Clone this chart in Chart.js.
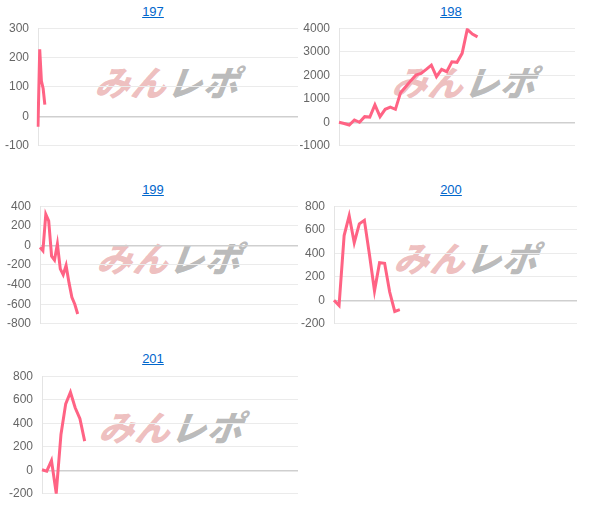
<!DOCTYPE html>
<html>
<head>
<meta charset="utf-8">
<script src="https://cdn.jsdelivr.net/npm/chart.js@4/dist/chart.umd.min.js"></script>
<style>
    body { margin: 0; background: #fff; font-family: "Liberation Sans", Arial, sans-serif; }
    #page { position: relative; width: 605px; height: 506px; overflow: hidden; }
    .title { position: absolute; text-align: center; font-size: 13px; line-height: 16px; }
    .title a { color: #0066cc; }
    .mark {
        position: absolute; transform: translate(-50%, -50%) skewX(-8deg);
        font-family: "Noto Sans CJK JP"; font-weight: 900; font-style: italic;
        font-size: 35px; line-height: 1; white-space: nowrap; letter-spacing: 1px;
    }
    .mark .a { color: rgba(215, 100, 100, 0.42); }
    .mark .b { color: rgba(110, 110, 110, 0.48); }
    canvas { position: absolute; }
</style>
</head>
<body>
<div id="page"></div>
<script>
// machine numbers (chart titles)
const machines = ['197', '198', '199', '200', '201']

// daily balance per machine
const balance197 = [-35, 228, 120, 95, 40]
const balance198 = [0, -50, -115, 100, 0, 240, 220, 740, 240, 550, 640, 550, 1260, 1510,
    1770, 2010, 2080, 2250, 2430, 1940, 2250, 2150, 2570, 2550, 2930, 3950, 3750, 3630]
const balance199 = [-20, -55, 317, 250, -110, -150, 14, -240, -300, -205, -380, -530, -600, -700]
const balance200 = [0, -45, 550, 720, 490, 650, 680, 390, 80, 320, 315, 70, -95, -80]
const balance201 = [4, -8, 83, -195, 305, 565, 664, 532, 438, 248]

// number of days on each x axis (labels are hidden)
const dayCounts = [153, 47, 90, 49, 55]

// y axis ticks
const yMin = [-100, -1000, -800, -200, -200]
const yMax = [300, 4000, 400, 800, 800]
const yStep = [100, 1000, 200, 200, 200]

const series = [balance197, balance198, balance199, balance200, balance201]

// page layout: canvas box, y axis width, title centre, watermark centre
const layout = [
    {left: 0, top: 12, w: 298, h: 150, axis: 38, tx: 153, ty: 12, mx: 168, my: 80},
    {left: 300, top: 12, w: 275, h: 150, axis: 39, tx: 451, ty: 12, mx: 465, my: 80},
    {left: 0, top: 190, w: 298, h: 150, axis: 40, tx: 153, ty: 190, mx: 170, my: 256},
    {left: 300, top: 190, w: 277, h: 150, axis: 34, tx: 451, ty: 190, mx: 467, my: 256},
    {left: 0, top: 360, w: 298, h: 150, axis: 42, tx: 153, ty: 359, mx: 172, my: 425},
]

const page = document.getElementById('page')

machines.forEach((name, i) => {
    const box = layout[i]

    page.insertAdjacentHTML('beforeend', `
        <div class="title" style="left:${box.tx - 60}px;top:${box.ty - 8}px;width:120px"><a href="#">${name}</a></div>
        <div class="mark" style="left:${box.mx}px;top:${box.my}px"><span class="a">みん</span><span class="b">レポ</span></div>
        <canvas id="c${name}" width="${box.w}" height="${box.h}" style="left:${box.left}px;top:${box.top}px"></canvas>
    `)

    const labels = []
    for (let d = 1; d <= dayCounts[i]; d++) labels.push(String(d))

    new Chart(document.getElementById('c' + name), {
        type: 'line',
        data: {
            labels: labels,
            datasets: [{
                data: series[i],
                borderColor: 'rgb(255, 99, 132)',
                backgroundColor: 'rgb(255, 99, 132)',
                borderWidth: 3,
                pointRadius: 0,
                tension: 0,
                fill: false,
            }]
        },
        options: {
            responsive: false,
            animation: false,
            plugins: {legend: {display: false}, tooltip: {enabled: false}},
            scales: {
                x: {display: false},
                y: {
                    min: yMin[i],
                    max: yMax[i],
                    ticks: {
                        stepSize: yStep[i],
                        color: '#666',
                        padding: 9,
                        font: {size: 12, family: '"Liberation Sans", Arial, sans-serif'},
                        callback: v => String(v)
                    },
                    grid: {
                        drawTicks: false,
                        color: ctx => ctx.tick && ctx.tick.value === 0 ? '#cfcfcf' : '#ebebeb',
                        lineWidth: ctx => ctx.tick && ctx.tick.value === 0 ? 1.5 : 1,
                    },
                    border: {color: '#e4e4e4'},
                    afterFit: s => { s.width = box.axis }
                }
            }
        }
    })
})
</script>
</body>
</html>
